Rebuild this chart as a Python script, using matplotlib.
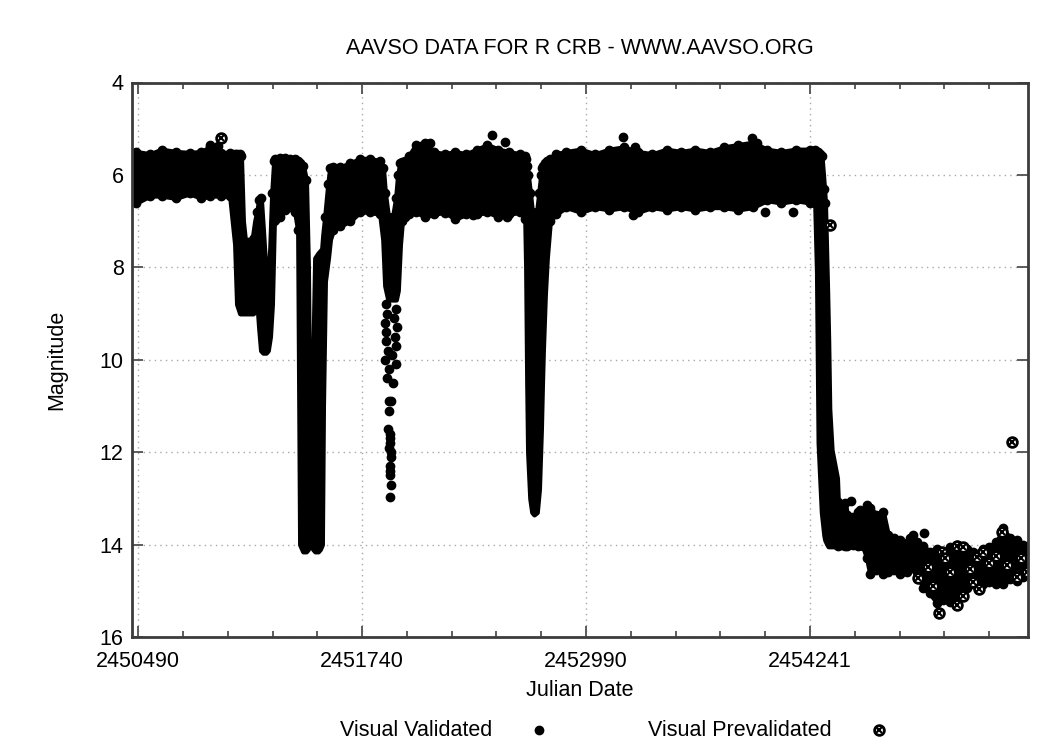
import numpy as np
import matplotlib
matplotlib.use("Agg")
import matplotlib.pyplot as plt
from matplotlib.lines import Line2D

plt.rcParams['font.family'] = ['Liberation Sans', 'DejaVu Sans']

# ---------------- data ----------------
# Envelope of the dense band of visual validated observations
env_jd = [2450455, 2450480, 2450556, 2450620, 2450700, 2450779, 2450840, 2450891, 2450950, 2451002,
          2451030, 2451041, 2451058, 2451064, 2451075, 2451086, 2451114, 2451131, 2451142, 2451153,
          2451164, 2451175, 2451187, 2451203, 2451214, 2451226, 2451237, 2451248, 2451254, 2451282,
          2451309, 2451337, 2451365, 2451382, 2451393, 2451410, 2451427, 2451438, 2451443, 2451455,
          2451466, 2451477, 2451494, 2451505, 2451516, 2451522, 2451533, 2451550, 2451561, 2451577,
          2451617, 2451672, 2451728, 2451784, 2451840, 2451857, 2451868, 2451885, 2451912, 2451929,
          2451940, 2451952, 2451963, 2451980, 2452000, 2452040, 2452090, 2452140, 2452200, 2452260,
          2452320, 2452380, 2452440, 2452500, 2452560, 2452620, 2452650, 2452655, 2452661, 2452666,
          2452678, 2452689, 2452700, 2452716, 2452728, 2452739, 2452745, 2452750, 2452761, 2452772,
          2452789, 2452820, 2452880, 2452960, 2453040, 2453120, 2453200, 2453280, 2453360, 2453440,
          2453520, 2453600, 2453680, 2453760, 2453840, 2453920, 2454000, 2454080, 2454160, 2454240,
          2454269, 2454279, 2454288, 2454297, 2454306, 2454320, 2454325, 2454337, 2454343, 2454349,
          2454362, 2454392, 2454397, 2454420, 2454437, 2454448, 2454480, 2454510, 2454537, 2454559,
          2454576, 2454610, 2454649, 2454677, 2454710, 2454745, 2454783, 2454800, 2454816, 2454839,
          2454872, 2454910, 2454950, 2454985, 2455023, 2455062, 2455095, 2455118, 2455150, 2455174,
          2455207, 2455240, 2455280, 2455319, 2455360, 2455397, 2455430, 2455458]
env_bright = [5.55, 5.50, 5.55, 5.45, 5.50, 5.52, 5.50, 5.40, 5.52, 5.52,
              5.55, 5.55, 5.55, 5.60, 7.00, 7.40, 7.40, 7.30, 7.00, 6.80,
              6.55, 6.50, 7.20, 8.20, 8.40, 7.60, 6.40, 5.70, 5.65, 5.63,
              5.63, 5.65, 5.65, 5.70, 5.75, 5.80, 6.10, 8.00, 10.15, 10.15,
              10.15, 7.80, 7.70, 7.65, 7.60, 7.30, 6.90, 6.20, 5.85, 5.83,
              5.83, 5.75, 5.65, 5.65, 5.70, 5.85, 6.40, 6.90, 6.90, 6.50,
              6.00, 5.75, 5.72, 5.70, 5.60, 5.35, 5.30, 5.50, 5.55, 5.50,
              5.55, 5.45, 5.35, 5.45, 5.50, 5.55, 5.60, 5.65, 5.80, 6.00,
              6.40, 6.80, 6.85, 6.80, 6.40, 6.00, 5.85, 5.80, 5.75, 5.70,
              5.65, 5.55, 5.50, 5.45, 5.55, 5.45, 5.40, 5.50, 5.55, 5.45,
              5.50, 5.45, 5.50, 5.40, 5.35, 5.30, 5.45, 5.50, 5.45, 5.45,
              5.45, 5.50, 5.50, 5.55, 5.60, 6.30, 6.60, 8.50, 9.58, 11.06,
              11.95, 12.56, 13.07, 13.15, 13.10, 13.37, 13.40, 13.30, 13.37, 13.15,
              13.20, 13.35, 13.30, 13.80, 13.85, 13.90, 13.96, 13.85, 13.80, 13.95,
              14.04, 14.15, 14.10, 14.20, 14.05, 14.00, 14.05, 14.10, 14.15, 14.20,
              14.10, 14.05, 13.95, 13.70, 13.85, 13.90, 14.00, 14.04]
env_faint = [6.55, 6.60, 6.45, 6.45, 6.50, 6.40, 6.50, 6.45, 6.45, 6.45,
             7.50, 8.80, 9.00, 9.00, 9.00, 9.00, 9.00, 9.00, 8.95, 8.70,
             9.30, 9.80, 9.85, 9.85, 9.80, 9.50, 8.80, 7.00, 6.97, 6.90,
             6.76, 6.70, 6.80, 7.20, 14.00, 14.15, 14.15, 14.10, 14.00, 14.00,
             14.10, 14.15, 14.15, 14.10, 14.00, 11.00, 8.30, 7.80, 7.40, 7.20,
             7.10, 7.00, 6.80, 6.80, 6.85, 7.40, 8.40, 8.70, 8.70, 8.70,
             8.50, 7.50, 7.00, 6.90, 6.85, 6.80, 6.90, 6.85, 6.80, 6.95,
             6.85, 6.85, 6.80, 6.90, 6.85, 6.80, 6.95, 8.00, 10.50, 12.00,
             13.00, 13.30, 13.35, 13.30, 12.80, 11.50, 10.50, 9.80, 8.60, 7.80,
             7.00, 6.85, 6.70, 6.80, 6.70, 6.75, 6.70, 6.80, 6.70, 6.75,
             6.70, 6.75, 6.70, 6.70, 6.75, 6.70, 6.55, 6.60, 6.55, 6.60,
             6.60, 8.10, 11.80, 12.56, 13.30, 13.80, 13.90, 14.00, 14.04, 14.04,
             14.04, 14.04, 14.04, 14.00, 14.04, 14.04, 14.00, 14.04, 14.04, 14.30,
             14.63, 14.55, 14.63, 14.60, 14.55, 14.63, 14.60, 14.33, 14.50, 14.60,
             14.93, 15.05, 15.26, 15.20, 15.25, 15.15, 15.08, 14.95, 14.85, 14.78,
             14.85, 14.80, 14.85, 14.85, 14.75, 14.78, 14.70, 14.63]

# Individual visual validated observations outside the dense band
val_jd = [2450891, 2450935, 2452119, 2452203, 2452359, 2452464, 2452538, 2452549, 2452996, 2453197,
          2453253, 2453264, 2453916, 2453943, 2453990, 2454146,
          2451873, 2451929, 2451868, 2451935, 2451873, 2451929, 2451868, 2451929, 2451879, 2451912,
          2451890, 2451901, 2451890, 2451885, 2451896, 2451890, 2451901, 2451896, 2451896, 2451901,
          2451896, 2451879, 2451918, 2451873, 2451924, 2451885, 2451907, 2451890, 2451896, 2451893,
          2451899, 2451893, 2454470, 2454520, 2454880, 2455320]
val_mag = [5.35, 5.38, 5.30, 6.83, 6.87, 5.13, 5.28, 6.90, 6.69, 5.17,
           6.87, 5.39, 5.20, 5.30, 6.80, 6.80,
           8.80, 8.90, 9.20, 9.30, 9.60, 9.70, 10.00, 10.10, 10.40, 10.50,
           10.90, 10.90, 11.10, 11.50, 11.70, 11.90, 12.10, 12.30, 12.50, 12.70,
           12.98, 9.00, 9.10, 9.40, 9.50, 9.80, 9.90, 10.20, 11.60, 11.80,
           12.00, 12.40, 13.05, 13.25, 13.75, 13.65]

# Visual prevalidated observations
pre_jd = [2450950, 2454353, 2455369, 2454846, 2454902, 2454930, 2454963, 2454976, 2454995, 2455020,
          2455060, 2455060, 2455097, 2455097, 2455135, 2455150, 2455172, 2455187, 2455209, 2455240,
          2455280, 2455312, 2455340, 2455395, 2455420, 2455455]
pre_mag = [5.20, 7.09, 11.77, 14.73, 14.48, 14.90, 15.49, 14.15, 14.30, 14.60,
           14.04, 15.30, 14.05, 15.11, 14.52, 14.80, 14.26, 14.97, 14.15, 14.40,
           14.25, 13.72, 14.45, 14.70, 14.30, 14.60]

x_major = [2450490, 2451740, 2452990, 2454241]
x_major_labels = ['2450490', '2451740', '2452990', '2454241']
y_major = [4, 6, 8, 10, 12, 14, 16]

title = 'AAVSO DATA FOR R CRB - WWW.AAVSO.ORG'
xlabel = 'Julian Date'
ylabel = 'Magnitude'
legend_labels = ['Visual Validated', 'Visual Prevalidated']

# ---------------- figure ----------------
W, H = 1055, 751
fig = plt.figure(figsize=(W / 100, H / 100), dpi=100)
L, R, T, B = 132, 1028, 82.5, 637
ax = fig.add_axes([L / W, 1 - B / H, (R - L) / W, (B - T) / H])

ax.set_xlim(2450455, 2455458)
ax.set_ylim(16, 4)

FS = 15.5
frame_col = '#3c3c3c'
MS = 6.0

# dense band
ax.fill_between(env_jd, env_bright, env_faint, facecolor='black', edgecolor='black',
                linewidth=3.5, joinstyle='round', zorder=3)
eb = np.array(env_bright)
ef = np.array(env_faint)
ej = np.array(env_jd)
mb = (eb < 7.0) | (ej > 2454392)
mf = (ef < 7.3) | (ej > 2454392)
ax.plot(ej[mb], eb[mb], 'o', ms=MS, color='black', zorder=3)
ax.plot(ej[mf], ef[mf], 'o', ms=MS, color='black', zorder=3)
ax.plot(val_jd, val_mag, 'o', ms=MS, color='black', linestyle='none', zorder=3)

# prevalidated markers
PMS = 7.0
ax.plot(pre_jd, pre_mag, 'o', ms=PMS, markerfacecolor='white', markeredgecolor='black',
        markeredgewidth=2.0, linestyle='none', zorder=4)
ax.plot(pre_jd, pre_mag, 'x', ms=4.0, color='black', markeredgewidth=1.5,
        linestyle='none', zorder=5)

# ticks
ax.set_xticks(x_major)
ax.set_xticklabels(x_major_labels)
minor = []
for a, b in zip(x_major[:-1], x_major[1:]):
    minor += list(np.linspace(a, b, 6)[1:-1])
step = (x_major[1] - x_major[0]) / 5
v = x_major[-1] + step
while v < 2455458:
    minor.append(v)
    v += step
ax.set_xticks(minor, minor=True)
ax.set_yticks(y_major)
ax.set_yticklabels([str(v) for v in y_major])

ax.tick_params(which='both', direction='in', top=True, right=True, color='#505050',
               labelsize=FS, labelcolor='black')
ax.tick_params(which='major', length=8, width=1.3)
ax.tick_params(which='minor', length=4, width=1.3)
ax.tick_params(axis='x', which='major', pad=10)
ax.tick_params(axis='y', which='major', pad=6)

ax.grid(True, which='major', linestyle=(0, (1, 3)), color='#a8a8a8', linewidth=1.0, zorder=1)
ax.set_axisbelow(True)
for s in ax.spines.values():
    s.set_linewidth(2.0)
    s.set_color(frame_col)
    s.set_zorder(6)

# texts
fig.text(580 / W, 1 - 48 / H, title, ha='center', va='center', fontsize=FS)
fig.text(580 / W, 1 - 690 / H, xlabel, ha='center', va='center', fontsize=FS)
fig.text(57 / W, 1 - 360 / H, ylabel, ha='center', va='center', rotation=90, fontsize=FS)

# legend
ly = 1 - 730 / H
fig.text(492 / W, ly, legend_labels[0], ha='right', va='center', fontsize=FS)
fig.text(832 / W, ly, legend_labels[1], ha='right', va='center', fontsize=FS)
fig.add_artist(Line2D([539 / W], [ly], marker='o', ms=MS, color='black', linestyle='none',
                      transform=fig.transFigure))
fig.add_artist(Line2D([879 / W], [ly], marker='o', ms=PMS, markerfacecolor='white',
                      markeredgecolor='black', markeredgewidth=2.0, linestyle='none',
                      transform=fig.transFigure))
fig.add_artist(Line2D([879 / W], [ly], marker='x', ms=4.0, color='black', markeredgewidth=1.5,
                      linestyle='none', transform=fig.transFigure))

fig.savefig('out.png', dpi=100)
